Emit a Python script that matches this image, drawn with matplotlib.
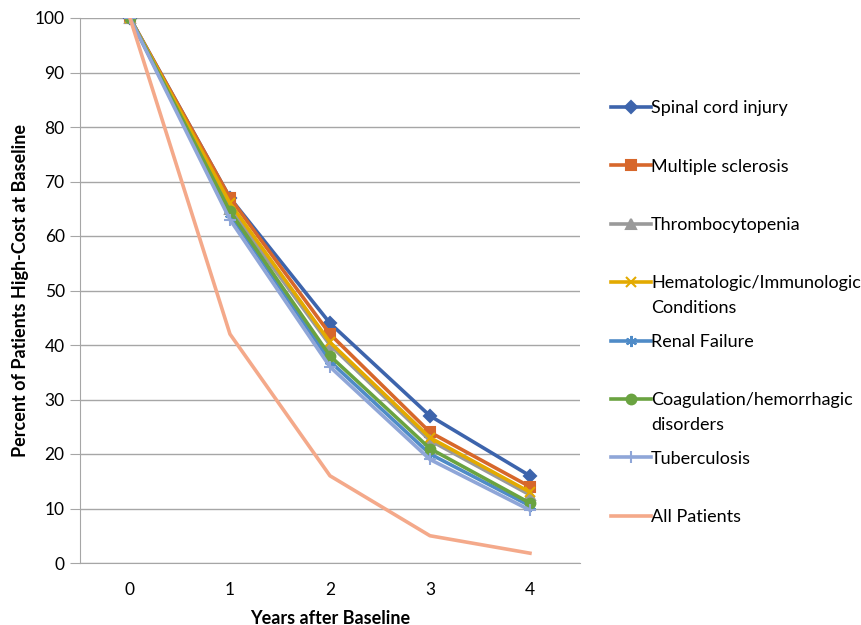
import matplotlib
matplotlib.use('Agg')
from matplotlib import pyplot as plt

plt.rcParams['font.family'] = ['Lato', 'DejaVu Sans']

years = [0, 1, 2, 3, 4]
spinal_cord = [100, 67, 44, 27, 16]
multiple_sclerosis = [100, 67, 42, 24, 14]
thrombocytopenia = [100, 65, 40, 22.5, 12.5]
hematologic = [100, 66, 40.5, 23, 13]
renal_failure = [100, 64, 37, 20, 10.5]
coagulation = [100, 64.5, 38, 21, 11]
tuberculosis = [100, 63, 36, 19, 9.7]
all_patients = [100, 42, 16, 5, 1.8]

# (first line, second line of legend label)
series = [
    ('Spinal cord injury', '', spinal_cord, '#3D64AC', 'D', 6),
    ('Multiple sclerosis', '', multiple_sclerosis, '#D7672B', 's', 7),
    ('Thrombocytopenia', '', thrombocytopenia, '#9A9A9A', '^', 7),
    ('Hematologic/Immunologic', 'Conditions', hematologic, '#E3AA00', 'x', 7),
    ('Renal Failure', '', renal_failure, '#4F8BC7', (6, 2, 0), 8),
    ('Coagulation/hemorrhagic', 'disorders', coagulation, '#6AA341', 'o', 7),
    ('Tuberculosis', '', tuberculosis, '#8FA6D8', '+', 8),
    ('All Patients', '', all_patients, '#F4A98A', None, 0),
]

fig = plt.figure(figsize=(8.62, 6.25), dpi=100)
ax = fig.add_axes([0.0928, 0.0992, 0.58, 0.872])

for name, _, vals, color, marker, ms in series:
    ax.plot(years, vals, color=color, lw=2.6, marker=marker, markersize=ms,
            markeredgewidth=1.5, label=name)

ax.set_xlim(-0.5, 4.5)
ax.set_ylim(0, 100)
ax.set_yticks(range(0, 101, 10))
ax.set_xticks(years)
ax.yaxis.grid(True, color='#A6A6A6', lw=1)
ax.set_axisbelow(True)
for side in ['top', 'right']:
    ax.spines[side].set_visible(False)
for side in ['left', 'bottom']:
    ax.spines[side].set_color('#A6A6A6')
ax.tick_params(axis='y', length=7, color='#A6A6A6', labelsize=12.5, pad=4)
ax.tick_params(axis='x', length=0, labelsize=12.5, pad=14)

ax.set_xlabel('Years after Baseline', fontsize=13, fontweight='bold', labelpad=8)
ax.set_ylabel('Percent of Patients High-Cost at Baseline', fontsize=13,
              fontweight='bold', labelpad=4)

leg = ax.legend(loc='upper left', bbox_to_anchor=(1.03, 0.879), frameon=False,
                fontsize=13, labelspacing=2.35, handlelength=2.2, handletextpad=0.0)

# second lines of the two-line labels hang below the first line
for txt, (_, extra, *_rest) in zip(leg.get_texts(), series):
    if extra:
        ax.annotate(extra, xy=(0, 0), xycoords=txt, xytext=(0, -6),
                    textcoords='offset points', va='top', ha='left', fontsize=13,
                    zorder=10, annotation_clip=False)

fig.savefig('out.png', dpi=100)
